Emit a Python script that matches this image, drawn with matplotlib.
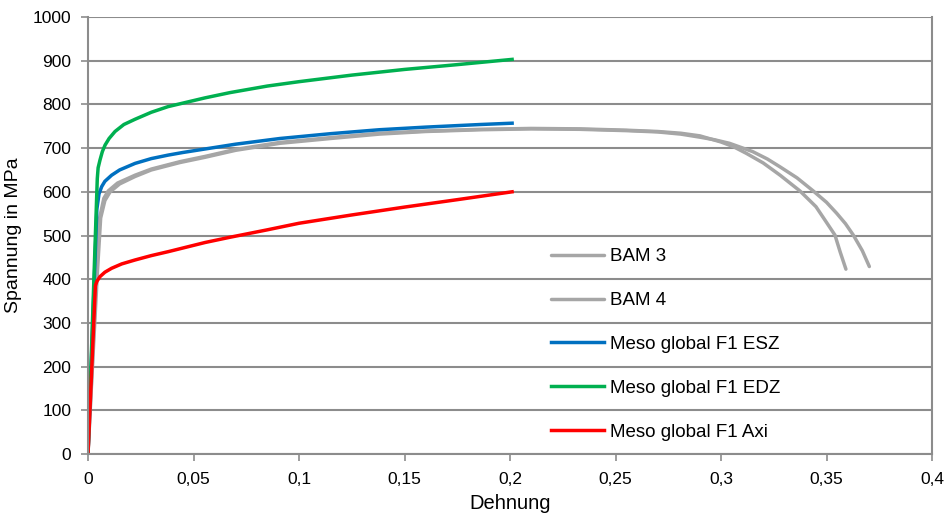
import matplotlib
matplotlib.use("Agg")
import matplotlib.pyplot as plt

plt.rcParams['font.family'] = ['Liberation Sans', 'DejaVu Sans']

# ---- data ----
bam3_x = [0, 0.002, 0.004, 0.0055, 0.0075, 0.0096, 0.014, 0.0223, 0.03, 0.038, 0.0436,
          0.0555, 0.07, 0.091, 0.115, 0.138, 0.16, 0.186, 0.21, 0.233, 0.255, 0.27,
          0.281, 0.29, 0.30, 0.306, 0.312, 0.32, 0.328, 0.3374, 0.345, 0.350, 0.354,
          0.3565, 0.3592]
bam3_y = [0, 200, 420, 540, 585, 602, 620, 638, 652, 662, 669,
          681, 697, 713, 724, 734, 739, 743, 745, 744, 741, 738,
          734, 728, 714, 703, 688, 666, 638, 602, 566, 530, 501,
          462, 423]

bam4_x = [0, 0.002, 0.0045, 0.006, 0.008, 0.0105, 0.015, 0.0223, 0.03, 0.038, 0.0436,
          0.0555, 0.07, 0.091, 0.115, 0.138, 0.16, 0.186, 0.21, 0.233, 0.255, 0.27,
          0.281, 0.29, 0.297, 0.304, 0.315, 0.322, 0.328, 0.336, 0.3437, 0.35,
          0.3548, 0.359, 0.3627, 0.367, 0.3703]
bam4_y = [0, 190, 420, 540, 580, 600, 618, 635, 650, 660, 667,
          679, 695, 711, 722, 732, 738, 742, 744, 743, 740, 737,
          732, 725, 719, 711, 692, 675, 657, 632, 602, 576,
          551, 527, 501, 465, 429]

esz_x = [0, 0.0042, 0.0052, 0.0065, 0.008, 0.0112, 0.015, 0.0223, 0.03, 0.038, 0.045,
         0.0555, 0.07, 0.091, 0.115, 0.138, 0.16, 0.186, 0.201]
esz_y = [0, 560, 595, 612, 624, 638, 650, 665, 676, 684, 690,
         698, 709, 722, 733, 742, 748, 754, 757]

edz_x = [0, 0.0044, 0.0048, 0.0057, 0.0068, 0.0081, 0.0100, 0.0128, 0.017, 0.0223,
         0.03, 0.038, 0.0555, 0.0673, 0.085, 0.1, 0.125, 0.15, 0.175, 0.201]
edz_y = [0, 630, 655, 673, 692, 707, 722, 738, 754, 766,
         782, 795, 815, 827, 842, 852, 867, 880, 891, 903]

axi_x = [0, 0.0035, 0.0042, 0.0057, 0.008, 0.0112, 0.016, 0.0223, 0.03, 0.038,
         0.0555, 0.0673, 0.085, 0.1, 0.125, 0.15, 0.175, 0.201]
axi_y = [0, 385, 395, 406, 416, 425, 435, 444, 454, 463,
         484, 496, 513, 528, 547, 565, 582, 600]

labels = ["BAM 3", "BAM 4", "Meso global F1 ESZ", "Meso global F1 EDZ", "Meso global F1 Axi"]
x_ticks = [0, 0.05, 0.1, 0.15, 0.2, 0.25, 0.3, 0.35, 0.4]
x_ticklabels = ["0", "0,05", "0,1", "0,15", "0,2", "0,25", "0,3", "0,35", "0,4"]
y_ticks = [0, 100, 200, 300, 400, 500, 600, 700, 800, 900, 1000]

# ---- figure ----
fig = plt.figure(figsize=(9.49, 5.13), dpi=100)
ax = fig.add_axes([88/949, (513-454)/513, (932-88)/949, (454-17)/513])

gray = '#A6A6A6'
lw = 2.5
ax.plot(bam3_x, bam3_y, color=gray, lw=lw, label=labels[0], solid_capstyle='round', solid_joinstyle='round')
ax.plot(bam4_x, bam4_y, color=gray, lw=lw, label=labels[1], solid_capstyle='round', solid_joinstyle='round')
ax.plot(esz_x, esz_y, color='#0070C0', lw=lw, label=labels[2], solid_joinstyle='round')
ax.plot(edz_x, edz_y, color='#00B050', lw=lw, label=labels[3], solid_joinstyle='round')
ax.plot(axi_x, axi_y, color='#FF0000', lw=lw, label=labels[4], solid_joinstyle='round')

ax.set_xlim(0, 0.4)
ax.set_ylim(0, 1000)
ax.set_xticks(x_ticks)
ax.set_xticklabels(x_ticklabels)
ax.set_yticks(y_ticks)

gc = '#8C8C8C'
ax.grid(axis='y', color=gc, lw=1.5)
ax.set_axisbelow(True)
for side in ['left', 'bottom', 'right', 'top']:
    ax.spines[side].set_color(gc)
    ax.spines[side].set_linewidth(1.5)
ax.spines['top'].set_visible(False)
ax.tick_params(axis='both', colors=gc, labelcolor='black', length=5, width=1.2,
               labelsize=12.5, direction='out')
ax.tick_params(axis='y', pad=7)
ax.tick_params(axis='x', pad=8)

ax.set_xlabel("Dehnung", fontsize=14.5, labelpad=5)
ax.set_ylabel("Spannung in MPa", fontsize=14, labelpad=8)

leg = ax.legend(loc='upper left', bbox_to_anchor=(551/949, (513-248)/513),
                bbox_transform=fig.transFigure, frameon=False, fontsize=13.5,
                handlelength=2.85, handletextpad=0.3, labelspacing=1.43,
                borderpad=0, borderaxespad=0)

fig.savefig("out.png", dpi=100, facecolor='white')
